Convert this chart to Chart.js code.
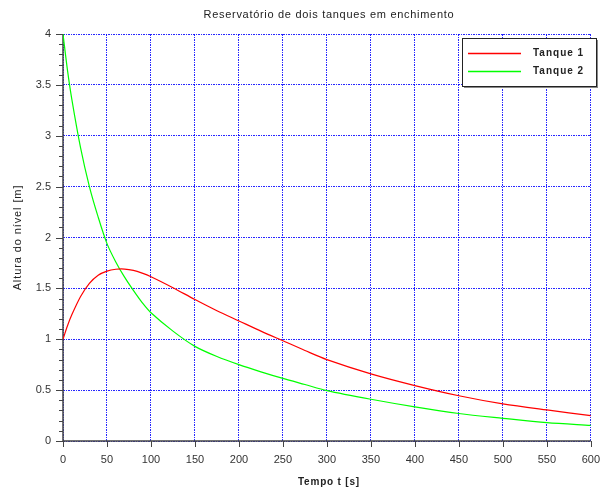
<!DOCTYPE html>
<html>
<head>
<meta charset="utf-8">
<script src="https://cdn.jsdelivr.net/npm/chart.js@4"></script>
<style>
  html, body { margin: 0; padding: 0; background: #fff; }
  #wrap { width: 612px; height: 491px; position: relative; }
</style>
</head>
<body>
<div id="wrap"><canvas id="chart"></canvas></div>
<script>
// valores
const tempo = [0, 5, 10, 20, 30, 40, 50, 60, 70, 80, 90, 100, 125, 150, 175, 200, 225, 250, 275, 300, 350, 400, 450, 500, 550, 600];
const tanque1 = [1.0, 1.13, 1.24, 1.42, 1.55, 1.63, 1.67, 1.688, 1.69, 1.677, 1.65, 1.615, 1.507, 1.39, 1.28, 1.18, 1.08, 0.985, 0.89, 0.80, 0.66, 0.545, 0.445, 0.365, 0.305, 0.25];
const tanque2 = [4.0, 3.65, 3.36, 2.88, 2.5, 2.2, 1.94, 1.76, 1.61, 1.48, 1.36, 1.26, 1.08, 0.93, 0.83, 0.75, 0.68, 0.615, 0.555, 0.495, 0.41, 0.335, 0.27, 0.223, 0.18, 0.154];
const series = ['Tanque 1', 'Tanque 2'];
const cores = ['#ff0000', '#00ff00'];

const titulo = 'Reservatório de dois tanques em enchimento';
const tituloX = 'Tempo t [s]';
const tituloY = 'Altura do nível [m]';

const FONTE = '"Liberation Sans", Arial, sans-serif';

// eixos com marcas (inclui as marcas menores do eixo y)
const eixos = {
  id: 'eixos',
  beforeDatasetsDraw(chart) {
    const { ctx, chartArea: a, scales: { x, y } } = chart;
    ctx.save();
    ctx.strokeStyle = '#444';
    ctx.lineWidth = 1.5;
    ctx.beginPath();
    ctx.moveTo(a.left, a.top);
    ctx.lineTo(a.left, a.bottom);
    ctx.lineTo(a.right, a.bottom);
    ctx.stroke();
    ctx.lineWidth = 1;
    ctx.beginPath();
    for (let v = 0; v <= 600; v += 50) {
      const px = Math.round(x.getPixelForValue(v)) + 0.5;
      ctx.moveTo(px, a.bottom);
      ctx.lineTo(px, a.bottom + 6);
    }
    for (let i = 0; i <= 40; i++) {
      const py = Math.round(y.getPixelForValue(i / 10)) + 0.5;
      const len = i % 5 === 0 ? 7 : 4;
      ctx.moveTo(a.left, py);
      ctx.lineTo(a.left - len, py);
    }
    ctx.stroke();
    ctx.restore();
  },
  afterDraw(chart) {
    const { ctx, chartArea: a } = chart;
    ctx.save();
    ctx.fillStyle = '#222';
    ctx.textAlign = 'center';
    ctx.textBaseline = 'middle';
    ctx.font = '11px ' + FONTE;
    ctx.letterSpacing = '0.7px';
    ctx.fillText(titulo, (a.left + a.right) / 2 + 2, 15);
    ctx.font = 'bold 10px ' + FONTE;
    ctx.letterSpacing = '0.8px';
    ctx.fillText(tituloX, (a.left + a.right) / 2 + 2, 482);
    ctx.save();
    ctx.translate(18, (a.top + a.bottom) / 2);
    ctx.rotate(-Math.PI / 2);
    ctx.font = '11px ' + FONTE;
    ctx.letterSpacing = '0.9px';
    ctx.fillText(tituloY, 0, 0);
    ctx.restore();

    // legenda
    const bx = 462, by = 38, bw = 134, bh = 48;
    ctx.fillStyle = '#888';
    ctx.fillRect(bx + 2, by + 2, bw, bh);
    ctx.fillStyle = '#fff';
    ctx.fillRect(bx, by, bw, bh);
    ctx.strokeStyle = '#222';
    ctx.lineWidth = 1;
    ctx.strokeRect(bx + 0.5, by + 0.5, bw, bh);
    ctx.font = 'bold 10px ' + FONTE;
    ctx.letterSpacing = '1px';
    ctx.textAlign = 'left';
    series.forEach((nome, i) => {
      const ly = 53.5 + i * 18;
      ctx.strokeStyle = cores[i];
      ctx.lineWidth = 1.5;
      ctx.beginPath();
      ctx.moveTo(468, ly);
      ctx.lineTo(521, ly);
      ctx.stroke();
      ctx.fillStyle = '#222';
      ctx.fillText(nome, 533, ly);
    });
    ctx.restore();
  }
};

const grade = {
  color: 'rgba(0, 0, 255, 0.85)',
  lineWidth: 1,
  drawTicks: false
};

new Chart(document.getElementById('chart'), {
  type: 'line',
  data: {
    datasets: series.map((nome, i) => ({
      label: nome,
      data: tempo.map((t, k) => ({ x: t, y: (i === 0 ? tanque1 : tanque2)[k] })),
      borderColor: cores[i],
      borderWidth: 1.2,
      pointRadius: 0,
      fill: false,
      tension: 0.3
    }))
  },
  options: {
    responsive: true,
    maintainAspectRatio: false,
    animation: false,
    layout: { padding: { left: 0, top: 34, right: 11, bottom: 0 } },
    plugins: {
      legend: { display: false },
      title: { display: false },
      tooltip: { enabled: false }
    },
    scales: {
      x: {
        type: 'linear',
        min: 0,
        max: 600,
        grid: grade,
        border: { display: false, dash: [2, 1, 1, 1] },
        ticks: {
          stepSize: 50,
          padding: 12,
          color: '#333',
          font: { family: FONTE, size: 11 }
        },
        afterFit: s => { s.height = 50; }
      },
      y: {
        min: 0,
        max: 4,
        grid: grade,
        border: { display: false, dash: [2, 1, 1, 1] },
        ticks: {
          stepSize: 0.5,
          padding: 12,
          color: '#333',
          font: { family: FONTE, size: 11 },
          callback: v => String(+v.toFixed(2))
        },
        afterFit: s => { s.width = 63; }
      }
    }
  },
  plugins: [eixos]
});
</script>
</body>
</html>
